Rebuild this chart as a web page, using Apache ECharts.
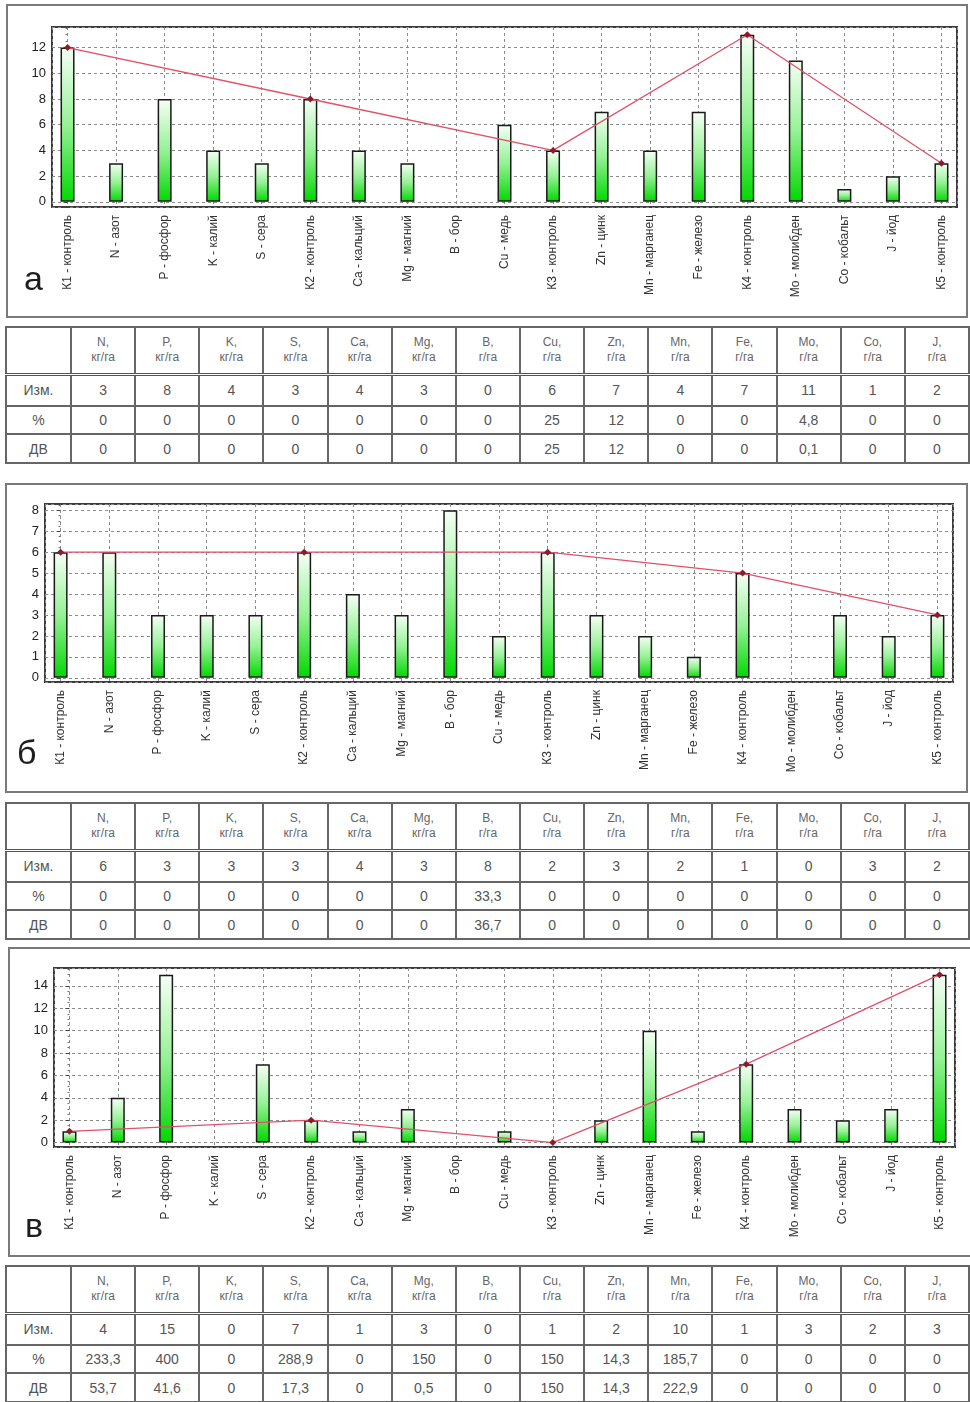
<!DOCTYPE html>
<html>
<head>
<meta charset="utf-8">
<script src="https://cdn.jsdelivr.net/npm/echarts@6/dist/echarts.min.js"></script>
<style>
  body { margin: 0; background: #fff; font-family: "Liberation Sans", Arial, sans-serif; }
  #page { position: relative; width: 970px; height: 1402px; overflow: hidden; }
  .frame { position: absolute; box-sizing: border-box; border: 2px solid #7a7a7a; }
  #chart { position: absolute; left: 0; top: 0; width: 970px; height: 1402px; z-index: 2; }
  .letter { position: absolute; font-size: 34px; line-height: 34px; color: #1e1e1e; z-index: 3; }
  table.t { position: absolute; left: 5px; width: 965px; border-collapse: collapse; table-layout: fixed; color: #555; }
  table.t td { border: 2px solid #666; text-align: center; padding: 0; font-size: 14px; }
  table.t tr.head td { font-size: 12px; line-height: 15px; color: #666; border-bottom: 3px double #555; }
</style>
</head>
<body>
<div id="page">
  <div class="frame" style="left:6px; top:4px; width:962px; height:314px;"></div>
  <div class="frame" style="left:5px; top:483px; width:963px; height:310px;"></div>
  <div class="frame" style="left:8px; top:947px; width:964px; height:310px;"></div>
  <div class="letter" style="left:24px; top:261px;">а</div>
  <div class="letter" style="left:17px; top:735px;">б</div>
  <div class="letter" style="left:25px; top:1208px;">в</div>
  <div id="chart"></div>
</div>
<script>
// категории по оси X
const cats = ['К1 - контроль', 'N - азот', 'P - фосфор', 'K - калий', 'S - сера',
  'К2 - контроль', 'Ca - кальций', 'Mg - магний', 'B - бор', 'Cu - медь',
  'К3 - контроль', 'Zn - цинк', 'Mn - марганец', 'Fe - железо', 'К4 - контроль',
  'Mo - молибден', 'Co - кобальт', 'J - йод', 'К5 - контроль'];
const controlIdx = [0, 5, 10, 14, 18];

// значения столбцов
const valuesA = [12, 3, 8, 4, 3, 8, 4, 3, 0, 6, 4, 7, 4, 7, 13, 11, 1, 2, 3];
const valuesB = [6, 6, 3, 3, 3, 6, 4, 3, 8, 2, 6, 3, 2, 1, 5, 0, 3, 2, 3];
const valuesV = [1, 4, 15, 0, 7, 2, 1, 3, 0, 1, 0, 2, 10, 1, 7, 3, 2, 3, 15];

// таблицы
const tHead = ['N,', 'P,', 'K,', 'S,', 'Ca,', 'Mg,', 'B,', 'Cu,', 'Zn,', 'Mn,', 'Fe,', 'Mo,', 'Co,', 'J,'];
const tUnits = ['кг/га', 'кг/га', 'кг/га', 'кг/га', 'кг/га', 'кг/га', 'г/га', 'г/га', 'г/га', 'г/га', 'г/га', 'г/га', 'г/га', 'г/га'];
const rowLabels = ['Изм.', '%', 'ДВ'];

const measA = [3, 8, 4, 3, 4, 3, 0, 6, 7, 4, 7, 11, 1, 2];
const pctA = ['0', '0', '0', '0', '0', '0', '0', '25', '12', '0', '0', '4,8', '0', '0'];
const dvA = ['0', '0', '0', '0', '0', '0', '0', '25', '12', '0', '0', '0,1', '0', '0'];

const measB = [6, 3, 3, 3, 4, 3, 8, 2, 3, 2, 1, 0, 3, 2];
const pctB = ['0', '0', '0', '0', '0', '0', '33,3', '0', '0', '0', '0', '0', '0', '0'];
const dvB = ['0', '0', '0', '0', '0', '0', '36,7', '0', '0', '0', '0', '0', '0', '0'];

const measV = [4, 15, 0, 7, 1, 3, 0, 1, 2, 10, 1, 3, 2, 3];
const pctV = ['233,3', '400', '0', '288,9', '0', '150', '0', '150', '14,3', '185,7', '0', '0', '0', '0'];
const dvV = ['53,7', '41,6', '0', '17,3', '0', '0,5', '0', '150', '14,3', '222,9', '0', '0', '0', '0'];

function makeTable(top, rows) {
  const t = document.createElement('table');
  t.className = 't';
  t.style.top = top + 'px';
  let html = '<colgroup><col style="width:65px">' + tHead.map(() => '<col>').join('') + '</colgroup>';
  html += '<tr class="head" style="height:47px"><td></td>' +
    tHead.map((h, i) => '<td>' + h + '<br>' + tUnits[i] + '</td>').join('') + '</tr>';
  const heights = [32, 28, 29];
  rows.forEach((r, k) => {
    html += '<tr style="height:' + heights[k] + 'px"><td>' + rowLabels[k] + '</td>' +
      r.map(v => '<td>' + v + '</td>').join('') + '</tr>';
  });
  t.innerHTML = html;
  document.getElementById('page').appendChild(t);
}
makeTable(326, [measA, pctA, dvA]);
makeTable(802, [measB, pctB, dvB]);
makeTable(1265, [measV, pctV, dvV]);

const panels = [
  { values: valuesA, grid: { left: 52, top: 27, width: 905, height: 180 }, yMin: -0.4, yMax: 13.6, step: 2 },
  { values: valuesB, grid: { left: 45, top: 504, width: 908, height: 178 }, yMin: -0.2, yMax: 8.3, step: 1 },
  { values: valuesV, grid: { left: 54, top: 968, width: 901, height: 179 }, yMin: -0.4, yMax: 15.6, step: 2 }
];

const dash = { color: '#8c8c8c', type: [3, 3], width: 1 };
const barColor = new echarts.graphic.LinearGradient(0, 0, 0, 1, [
  { offset: 0, color: '#f6fff6' },
  { offset: 0.5, color: '#95f295' },
  { offset: 1, color: '#00d800' }
]);

const chart = echarts.init(document.getElementById('chart'));
const option = {
  animation: false,
  grid: [], xAxis: [], yAxis: [], series: []
};

panels.forEach((p, i) => {
  option.grid.push(Object.assign({ show: true, borderColor: '#3c3c3c', borderWidth: 2 }, p.grid));
  option.xAxis.push({
    gridIndex: i, type: 'value', min: -0.32, max: 18.32, minInterval: 1, maxInterval: 1,
    axisLine: { show: false }, axisTick: { show: false },
    splitLine: { show: true, lineStyle: dash },
    axisLabel: {
      rotate: 90, fontSize: 12, color: '#333', margin: 8,
      fontFamily: 'Liberation Sans, Arial, sans-serif',
      formatter: v => (Number.isInteger(v) && v >= 0 && v < cats.length) ? cats[v] : ''
    }
  });
  option.yAxis.push({
    gridIndex: i, type: 'value', min: p.yMin, max: p.yMax, minInterval: p.step, maxInterval: p.step,
    axisLine: { show: false },
    axisTick: { show: true, length: 4, lineStyle: { color: '#444' } },
    minorTick: { show: true, splitNumber: 4, length: 2, lineStyle: { color: '#777' } },
    splitLine: { show: true, lineStyle: dash },
    axisLabel: {
      fontSize: 13, color: '#222', margin: 6,
      fontFamily: 'Liberation Sans, Arial, sans-serif',
      formatter: v => (v >= 0 && Math.abs(v / p.step - Math.round(v / p.step)) < 1e-6) ? String(Math.round(v)) : ''
    }
  });
  option.series.push({
    type: 'bar', xAxisIndex: i, yAxisIndex: i, barWidth: 14,
    data: p.values.map((v, k) => [k, v === 0 ? '-' : v]),
    itemStyle: { color: barColor, borderColor: '#1a1a1a', borderWidth: 1.5 }
  });
  option.series.push({
    type: 'line', xAxisIndex: i, yAxisIndex: i,
    data: controlIdx.map(k => [k, p.values[k]]),
    symbol: 'diamond', symbolSize: 7,
    lineStyle: { color: '#e0506a', width: 1.3 },
    itemStyle: { color: '#8b1c2c' }
  });
});

chart.setOption(option);
</script>
</body>
</html>
